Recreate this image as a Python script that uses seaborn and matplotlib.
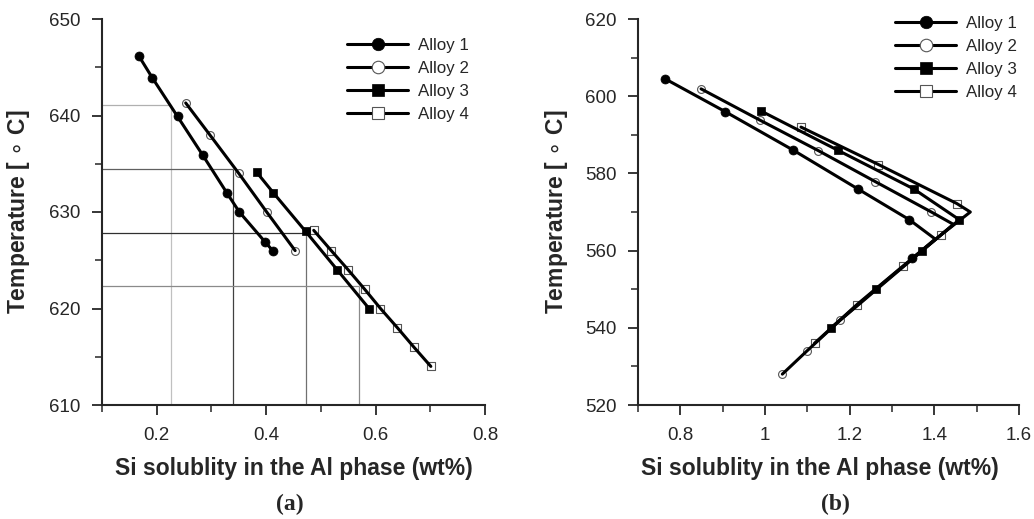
import matplotlib

matplotlib.use("Agg")
import matplotlib.pyplot as plt
from matplotlib.lines import Line2D
from matplotlib.ticker import FuncFormatter, MultipleLocator
import pandas as pd
import seaborn as sns

ALLOYS = ["Alloy 1", "Alloy 2", "Alloy 3", "Alloy 4"]

# (a) hypoeutectic liquidus region
A1_SI = [0.167, 0.192, 0.238, 0.284, 0.328, 0.351, 0.398, 0.412]
A1_T = [646.2, 643.9, 639.9, 635.9, 632.0, 630.0, 626.9, 626.0]
A2_SI = [0.253, 0.297, 0.350, 0.401, 0.453]
A2_T = [641.3, 638.0, 634.0, 630.0, 626.0]
A3_SI = [0.383, 0.413, 0.472, 0.530, 0.588]
A3_T = [634.1, 632.0, 628.0, 624.0, 620.0]
A4_SI = [0.487, 0.519, 0.550, 0.580, 0.609, 0.640, 0.670, 0.701]
A4_T = [628.1, 626.0, 624.0, 622.0, 620.0, 618.0, 616.0, 614.0]

# guide lines in (a): temperature -> solubility read-off
GUIDE_T = [641.1, 634.5, 627.8, 622.3]
GUIDE_SI = [0.226, 0.339, 0.473, 0.569]
GUIDE_HCOL = ["#b0b0b0", "#606060", "#303030", "#8a8a8a"]
GUIDE_VCOL = ["#c0c0c0", "#404040", "#707070", "#8a8a8a"]

# (b) eutectic region, 1 = marker drawn at that vertex
B1_SI = [0.764, 0.906, 1.067, 1.219, 1.341, 1.402, 1.348]
B1_T = [604.5, 596.0, 586.0, 576.0, 568.0, 563.0, 558.0]
B1_MARK = [1, 1, 1, 1, 1, 0, 1]
B2_SI = [0.849, 0.988, 1.126, 1.260, 1.393, 1.445, 1.178, 1.099, 1.041]
B2_T = [601.9, 593.8, 585.9, 577.9, 570.0, 566.8, 542.0, 534.0, 528.0]
B2_MARK = [1, 1, 1, 1, 1, 0, 1, 1, 1]
B3_SI = [0.990, 1.172, 1.351, 1.459, 1.371, 1.262, 1.156]
B3_T = [596.2, 586.0, 576.0, 568.0, 560.0, 550.0, 540.0]
B3_MARK = [1, 1, 1, 1, 1, 1, 1]
B4_SI = [1.085, 1.268, 1.453, 1.485, 1.415, 1.326, 1.217, 1.117]
B4_T = [592.0, 582.3, 572.2, 570.0, 564.0, 556.0, 546.0, 536.0]
B4_MARK = [1, 1, 1, 0, 1, 1, 1, 1]

MARKERS = {"Alloy 1": "o", "Alloy 2": "o", "Alloy 3": "s", "Alloy 4": "s"}
FILLED = {"Alloy 1": True, "Alloy 2": False, "Alloy 3": True, "Alloy 4": False}
SIZES = {"Alloy 1": 42, "Alloy 2": 32, "Alloy 3": 36, "Alloy 4": 28}

W, H = 1034, 519


def build_frame(si_lists, t_lists, mark_lists=None):
    frames = []
    for i, (alloy, si, t) in enumerate(zip(ALLOYS, si_lists, t_lists)):
        mark = mark_lists[i] if mark_lists else [1] * len(si)
        frames.append(pd.DataFrame({"alloy": alloy, "si": si, "temp": t,
                                    "marked": [bool(m) for m in mark]}))
    return pd.concat(frames, ignore_index=True)


def draw(ax, df):
    for alloy in ALLOYS:
        sub = df[df["alloy"] == alloy]
        sns.lineplot(data=sub, x="si", y="temp", sort=False, estimator=None,
                     color="black", lw=2.2, ax=ax, zorder=3)
        pts = sub[sub["marked"]]
        if FILLED[alloy]:
            sns.scatterplot(data=pts, x="si", y="temp", marker=MARKERS[alloy], s=SIZES[alloy],
                            color="black", edgecolor="black", linewidth=0.5, ax=ax, zorder=4)
        else:
            sns.scatterplot(data=pts, x="si", y="temp", marker=MARKERS[alloy], s=SIZES[alloy],
                            color="white", edgecolor="#555555", linewidth=0.8, ax=ax, zorder=2)


def style_axes(ax, xlim, ylim, xmaj, ymaj):
    ax.set_xlim(*xlim)
    ax.set_ylim(*ylim)
    ax.xaxis.set_major_locator(MultipleLocator(xmaj))
    ax.xaxis.set_minor_locator(MultipleLocator(xmaj / 2))
    ax.yaxis.set_major_locator(MultipleLocator(ymaj))
    ax.yaxis.set_minor_locator(MultipleLocator(ymaj / 2))
    fmt = FuncFormatter(lambda v, p: f"{v:g}")
    ax.xaxis.set_major_formatter(fmt)
    ax.yaxis.set_major_formatter(fmt)
    sns.despine(ax=ax)
    for side in ("left", "bottom"):
        ax.spines[side].set_linewidth(1.5)
    ax.tick_params(which="major", direction="out", length=7.5, width=1.3, labelsize=13.5, pad=8)
    ax.tick_params(which="minor", direction="out", length=5, width=1.1)
    ax.set_xlabel("Si solublity in the Al phase (wt%)", fontsize=16.5, fontweight="bold")
    ax.set_ylabel(r"Temperature [ $\circ$ C]", fontsize=16.5, fontweight="bold")


def legend(ax, x_px, top_px):
    handles = []
    for alloy in ALLOYS:
        handles.append(Line2D([], [], color="black", lw=2.2, marker=MARKERS[alloy], markersize=9,
                              markerfacecolor="black" if FILLED[alloy] else "white",
                              markeredgecolor="black" if FILLED[alloy] else "#555555",
                              markeredgewidth=0.5 if FILLED[alloy] else 0.8))
    ax.legend(handles, ALLOYS, loc="upper left", bbox_to_anchor=(x_px / W, 1 - top_px / H),
              bbox_transform=ax.figure.transFigure, frameon=False,
              fontsize=12.2, handlelength=3.6, handletextpad=0.6, labelspacing=0.48,
              borderaxespad=0, borderpad=0)


def main():
    sns.set_style("ticks")
    plt.rcParams["font.family"] = ["Liberation Sans", "DejaVu Sans"]
    plt.rcParams["mathtext.fontset"] = "dejavusans"

    fig = plt.figure(figsize=(W / 100, H / 100), dpi=100)
    ax1 = fig.add_axes([102 / W, 1 - 405 / H, 383 / W, 386 / H])
    ax2 = fig.add_axes([638 / W, 1 - 405 / H, 381 / W, 386 / H])

    left = build_frame([A1_SI, A2_SI, A3_SI, A4_SI], [A1_T, A2_T, A3_T, A4_T])
    right = build_frame([B1_SI, B2_SI, B3_SI, B4_SI], [B1_T, B2_T, B3_T, B4_T],
                        [B1_MARK, B2_MARK, B3_MARK, B4_MARK])

    xmin = 0.1
    ymin = 610
    for t, si, hc, vc in zip(GUIDE_T, GUIDE_SI, GUIDE_HCOL, GUIDE_VCOL):
        ax1.hlines(t, xmin, si, color=hc, lw=0.9, zorder=1)
        ax1.vlines(si, ymin, t, color=vc, lw=0.9, zorder=1)

    draw(ax1, left)
    draw(ax2, right)

    style_axes(ax1, (0.1, 0.8), (610, 650), 0.2, 10)
    style_axes(ax2, (0.7, 1.6), (520, 620), 0.2, 20)
    ax1.yaxis.set_label_coords(-0.183, 0.5)
    ax2.yaxis.set_label_coords(-0.178, 0.5)
    ax1.xaxis.set_label_coords(0.5, -0.135)
    ax2.xaxis.set_label_coords(0.478, -0.135)

    legend(ax1, 347, 38)
    legend(ax2, 895, 16)

    fig.text(290 / W, 1 - 504 / H, "(a)", fontsize=17, fontweight="bold",
             family="Liberation Serif", ha="center", va="center")
    fig.text(835 / W, 1 - 504 / H, "(b)", fontsize=17, fontweight="bold",
             family="Liberation Serif", ha="center", va="center")

    fig.savefig("out.png", dpi=100)
    plt.close(fig)


if __name__ == "__main__":
    main()
